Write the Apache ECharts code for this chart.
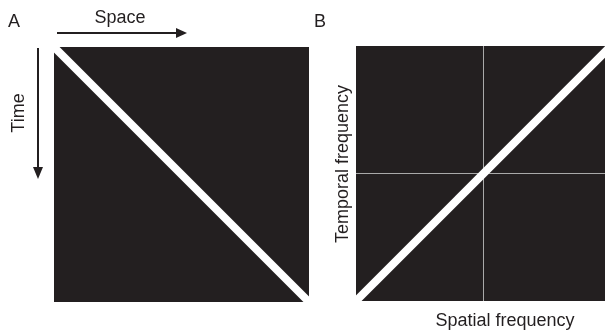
<!DOCTYPE html>
<html>
<head>
<meta charset="utf-8">
<script src="https://cdn.jsdelivr.net/npm/echarts@6/dist/echarts.min.js"></script>
<style>
  html, body { margin: 0; padding: 0; background: #fff; }
  #chart { width: 605px; height: 332px; }
</style>
</head>
<body>
<div id="chart"></div>
<script>
// Panel A: a stimulus moving at constant speed traces a diagonal in space-time
const spaceTimeLine = [[0, 1], [1, 0]];
// Panel B: its spectrum lies on a line through the origin of the frequency plane
const spectrumLine = [[-1, -1], [1, 1]];
// Zero-frequency reference axes in panel B
const zeroSpatial = [[0, -1], [0, 1]];
const zeroTemporal = [[-1, 0], [1, 0]];

const FONT = "'Liberation Sans', Arial, Helvetica, sans-serif";
const BG = '#231f20';
const INK = '#231f20';

const hiddenAxis = (gridIndex, min, max) => ({
  type: 'value', gridIndex, min, max,
  show: false, splitLine: { show: false }
});

const chart = echarts.init(document.getElementById('chart'), null, { renderer: 'canvas' });

chart.setOption({
  animation: false,
  grid: [
    { left: 54, top: 47, width: 255, height: 255, show: true, backgroundColor: BG, borderWidth: 0, outerBoundsMode: 'none' },
    // the frequency plane runs past the right edge of the canvas
    { left: 356, top: 46, width: 255, height: 255, show: true, backgroundColor: BG, borderWidth: 0, outerBoundsMode: 'none' }
  ],
  xAxis: [hiddenAxis(0, 0, 1), hiddenAxis(1, -1, 1)],
  yAxis: [hiddenAxis(0, 0, 1), hiddenAxis(1, -1, 1)],
  series: [
    {
      type: 'line', xAxisIndex: 0, yAxisIndex: 0, data: spaceTimeLine,
      symbol: 'none', clip: true,
      lineStyle: { color: '#ffffff', width: 8, cap: 'butt' }
    },
    {
      type: 'line', xAxisIndex: 1, yAxisIndex: 1, data: zeroSpatial,
      symbol: 'none', clip: true,
      lineStyle: { color: '#a9a9a9', width: 1 }
    },
    {
      type: 'line', xAxisIndex: 1, yAxisIndex: 1, data: zeroTemporal,
      symbol: 'none', clip: true,
      lineStyle: { color: '#a9a9a9', width: 1 }
    },
    {
      type: 'line', xAxisIndex: 1, yAxisIndex: 1, data: spectrumLine,
      symbol: 'none', clip: true,
      lineStyle: { color: '#ffffff', width: 8, cap: 'butt' }
    }
  ],
  graphic: [
    // panel letters
    { type: 'text', left: 8, top: 13, style: { text: 'A', font: `18px ${FONT}`, fill: INK } },
    { type: 'text', left: 314, top: 13, style: { text: 'B', font: `18px ${FONT}`, fill: INK } },
    // Space arrow
    { type: 'text', x: 120, y: 18, style: { text: 'Space', font: `18px ${FONT}`, fill: INK, align: 'center', verticalAlign: 'middle' } },
    { type: 'line', shape: { x1: 57, y1: 33, x2: 177, y2: 33 }, style: { stroke: INK, lineWidth: 2 } },
    { type: 'polygon', shape: { points: [[176, 28], [187, 33], [176, 38]] }, style: { fill: INK } },
    // Time arrow
    { type: 'text', x: 19, y: 113, rotation: Math.PI / 2, style: { text: 'Time', font: `18px ${FONT}`, fill: INK, align: 'center', verticalAlign: 'middle' } },
    { type: 'line', shape: { x1: 38, y1: 48, x2: 38, y2: 168 }, style: { stroke: INK, lineWidth: 2 } },
    { type: 'polygon', shape: { points: [[33, 167], [38, 179], [43, 167]] }, style: { fill: INK } },
    // Panel B axis names
    { type: 'text', x: 343, y: 164, rotation: Math.PI / 2, style: { text: 'Temporal frequency', font: `18px ${FONT}`, fill: INK, align: 'center', verticalAlign: 'middle' } },
    { type: 'text', x: 505, y: 321, style: { text: 'Spatial frequency', font: `18px ${FONT}`, fill: INK, align: 'center', verticalAlign: 'middle' } }
  ]
});
</script>
</body>
</html>
